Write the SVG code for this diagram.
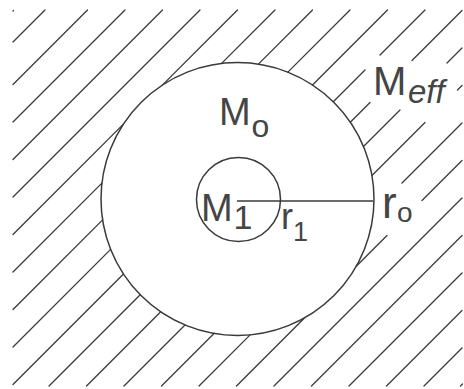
<svg xmlns="http://www.w3.org/2000/svg" width="464" height="389" viewBox="0 0 464 389">
<style>
.h{stroke:#3a3a3a;stroke-width:1.3;stroke-linecap:round;fill:none}
.c{stroke:#3a3a3a;stroke-width:1.5;fill:none}
.t{font-family:"Liberation Sans",Arial,sans-serif;fill:#454545}
.i{font-style:italic}
</style>
<rect width="464" height="389" fill="#ffffff"/>
<g id="hatching" class="h">
<path d="M13.5,10.5L13,11"/>
<path d="M45,10L13,42"/>
<path d="M87.5,10L13,84.5"/>
<path d="M125,10L13,122"/>
<path d="M162.5,10L13,159.5"/>
<path d="M200,10L13,197"/>
<path d="M237.5,10L162.6,84.9M123.4,124.1L13,234.5"/>
<path d="M275,10L221.6,63.4M101.9,183.1L13,272"/>
<path d="M312.5,10L258.4,64.1M102.6,219.9L13,309.5"/>
<path d="M350,10L287.9,72.1M110.6,249.4L13,347"/>
<path d="M387.5,10L312.5,85M123.5,274L13,384.5"/>
<path d="M425,10L380,55M365,70L333.3,101.7M140.2,294.8L49,386"/>
<path d="M462,10.5L412,60.5M370,102.5L350.3,122.2M160.7,311.8L86.5,386"/>
<path d="M462,48L447,63M400,110L363.5,146.5M185,325L124,386"/>
<path d="M462,85.5L457.5,90M425,122.5L372,175.5M214,333.5L161.5,386"/>
<path d="M462,123L402,183M250.1,334.9L199,386"/>
<path d="M462,160.5L422,200.5M387,235.5L356.3,266.2M304.7,317.8L236.5,386"/>
<path d="M462,198L274,386"/>
<path d="M462,235.5L311.5,386"/>
<path d="M462,273L349,386"/>
<path d="M462,310.5L386.5,386"/>
<path d="M462,348L424,386"/>
<path d="M462.5,384L460.5,386"/>
</g>
<g id="outer-circle">
<circle class="c" cx="237.5" cy="199" r="136.5"/>
</g>
<g id="inner-circle">
<circle class="c" cx="238.5" cy="199.5" r="42"/>
</g>
<g id="radius">
<line class="c" x1="237" y1="201" x2="373" y2="201"/>
</g>
<g id="label-M0" class="t">
<text x="219" y="125" font-size="38">M</text>
<text x="251.5" y="137" font-size="32">o</text>
</g>
<g id="label-M1" class="t">
<text x="201" y="221" font-size="38">M</text>
<text x="233.5" y="229" font-size="34">1</text>
</g>
<g id="label-r1" class="t">
<text x="281" y="229" font-size="36">r</text>
<text x="293" y="241" font-size="27">1</text>
</g>
<g id="label-r0" class="t">
<text x="382" y="217.5" font-size="44">r</text>
<text x="397" y="222" font-size="28">o</text>
</g>
<g id="label-Meff" class="t">
<text x="373" y="95" font-size="40">M</text>
<text class="i" x="408" y="103" font-size="33">eff</text>
</g>
</svg>
